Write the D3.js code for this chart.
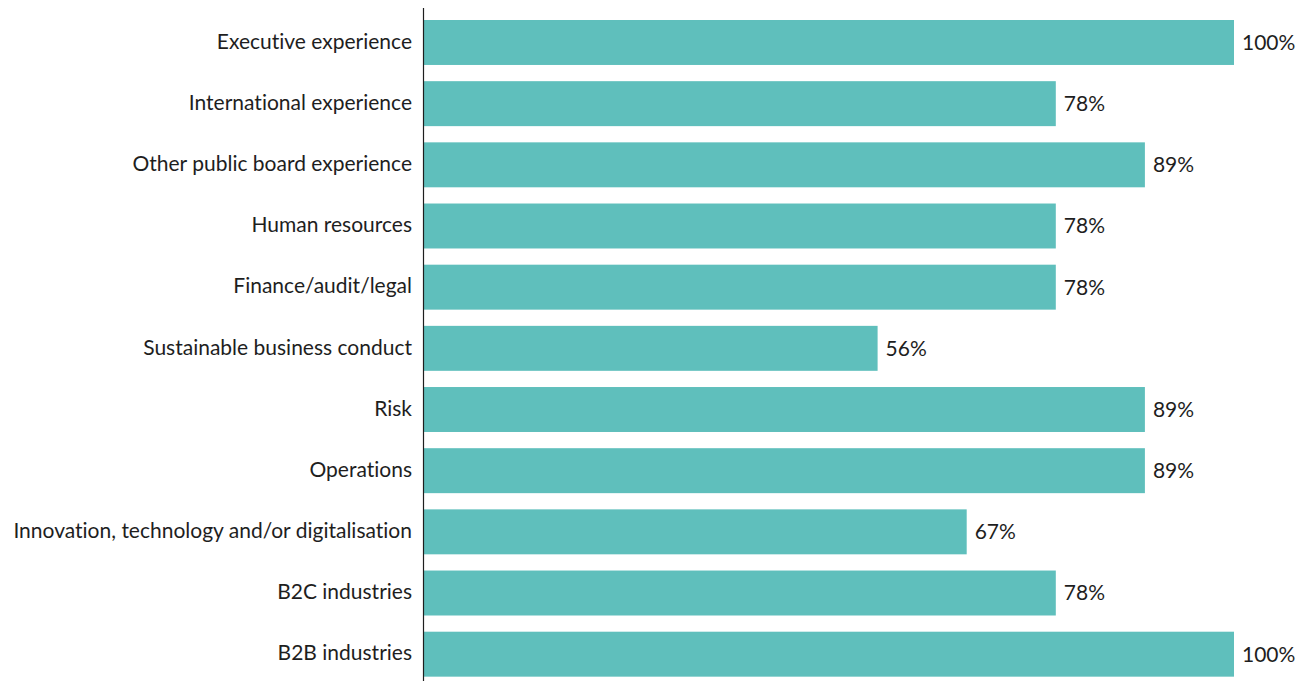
<!DOCTYPE html>
<html>
<head>
<meta charset="utf-8">
<script src="https://cdn.jsdelivr.net/npm/d3@7"></script>
<style>
  html, body { margin: 0; padding: 0; background: #fff; }
  svg text { font-family: Lato, "Noto Sans", sans-serif; fill: #1e1e1e; font-variant-ligatures: none; }
</style>
</head>
<body>
<svg id="chart"></svg>
<script>
// chart data
const categories = [
  'Executive experience',
  'International experience',
  'Other public board experience',
  'Human resources',
  'Finance/audit/legal',
  'Sustainable business conduct',
  'Risk',
  'Operations',
  'Innovation, technology and/or digitalisation',
  'B2C industries',
  'B2B industries'
];
const values = [100, 78, 89, 78, 78, 56, 89, 89, 67, 78, 100];

const config = {
  width: 1314,
  height: 681,
  margin: { top: 8, left: 424, right: 80 },
  barColor: '#5fbfbc',
  fontSize: '21px'
};

const svg = d3.select('#chart')
    .attr('width', config.width)
    .attr('height', config.height);

const data = categories.map((c, i) => ({ category: c, value: values[i] }));

// x: 0..100% across bar area
const xScale = d3.scaleLinear()
    .domain([0, 100])
    .range([config.margin.left, config.margin.left + 810]);

const yScale = d3.scaleBand()
    .domain(categories)
    .range([11.9, 11.9 + 61.17 * categories.length])
    .paddingInner(0.265)
    .paddingOuter(0.1325);

// bars
svg.selectAll('rect.bar')
  .data(data)
  .join('rect')
    .attr('class', 'bar')
    .attr('x', xScale(0))
    .attr('y', d => yScale(d.category))
    .attr('width', d => xScale(d.value) - xScale(0))
    .attr('height', yScale.bandwidth())
    .attr('fill', config.barColor);

// value labels
svg.selectAll('text.value')
  .data(data)
  .join('text')
    .attr('class', 'value')
    .attr('x', d => xScale(d.value) + 8)
    .attr('y', d => yScale(d.category) + yScale.bandwidth() / 2)
    .attr('dy', '0.35em')
    .style('font-size', config.fontSize)
    .text(d => `${d.value}%`);

// category axis (labels only, plus the vertical line)
const yAxis = d3.axisLeft(yScale).tickSize(0).tickPadding(12);
const yAxisG = svg.append('g')
    .attr('transform', `translate(${config.margin.left},0)`)
    .call(yAxis);
yAxisG.select('.domain').remove();
yAxisG.selectAll('text')
    .style('font-size', config.fontSize)
    .attr('dy', '0.3em')
    .attr('fill', '#1e1e1e');

svg.append('line')
    .attr('x1', config.margin.left - 0.5)
    .attr('x2', config.margin.left - 0.5)
    .attr('y1', config.margin.top)
    .attr('y2', config.height)
    .attr('stroke', '#1e1e1e')
    .attr('stroke-width', 1.2);
</script>
</body>
</html>
